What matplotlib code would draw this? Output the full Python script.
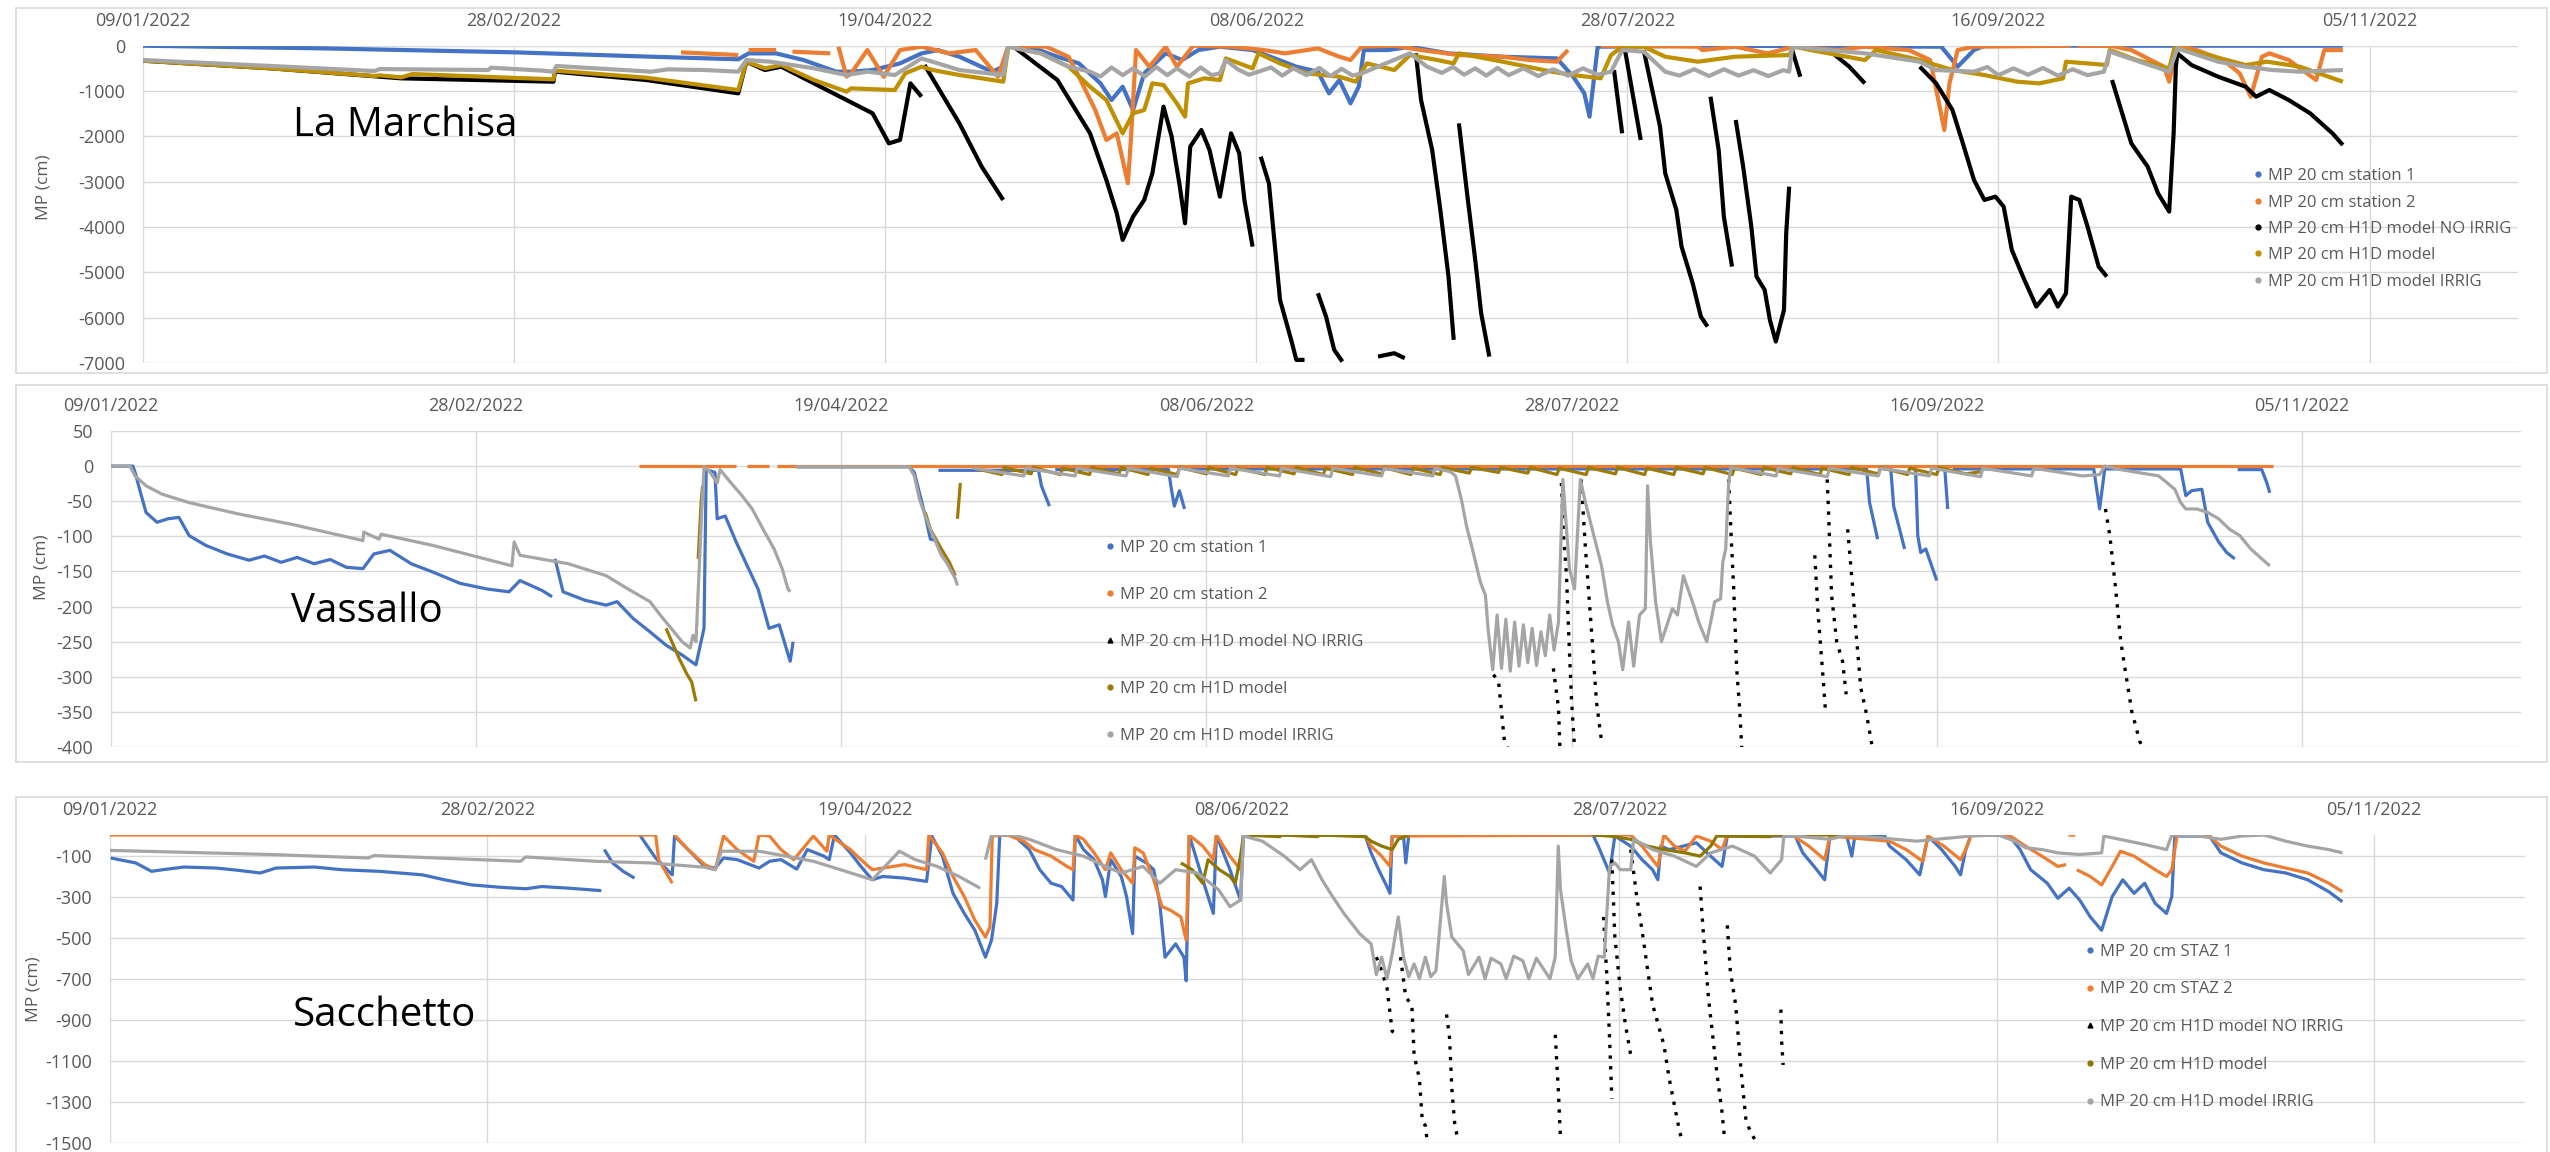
import numpy as np
import matplotlib
matplotlib.use("Agg")
import matplotlib.pyplot as plt
import matplotlib.dates as mdates
from matplotlib.ticker import MultipleLocator
from matplotlib.lines import Line2D
from matplotlib.patches import Rectangle

plt.rcParams['font.family'] = ['Open Sans', 'DejaVu Sans']
plt.rcParams['axes.unicode_minus'] = False

# dati: (giorni dal 09/01/2022, MP in cm), None = interruzione
START = np.datetime64('2022-01-09')

# --- La Marchisa ---
lm_st1 = [(0, 0), (24.6, -60), (50.2, -147), (68.5, -243), (80.2, -300), (81.6, -170), (85.3, -170), (89, -316),
          (93.4, -573), (95.4, -573), (98.3, -537), (102, -390), (104.9, -169), (107.1, -96), (110, -243),
          (114.4, -573), (115.9, -463), (116.6, -22), (119.5, -22), (123.2, -243), (126.1, -390), (129, -831),
          (130.5, -1198), (132, -904), (133.4, -1419), (134.9, -610), (137.8, -169), (140, -316), (142.2, -96),
          (145.1, -22), (149.5, -96), (152.5, -280), (155.4, -463), (158.3, -573), (159.8, -1051), (161.2, -757),
          (162.7, -1272), (163.8, -904), (164.5, -96), (167.8, -96), (170.7, -22), (175.9, -169), (183.2, -243),
          (190.5, -280), (192.7, -684), (194.2, -1051), (194.9, -1566), (196, -22), (210, 0), (242.3, -22),
          (244.5, -463), (246.7, -96), (248.1, 0), (296.4, 0)]
lm_st2 = [(72.5, -147), (80.2, -206), None, (81.6, -96), (85.3, -96), None, (87.5, -132), (92.6, -169), None,
          (93.7, -22), (94.8, -684), (95.4, -610), (97.6, -96), (99.8, -684), (102, -96), (104.9, -22),
          (108.6, -169), (112.2, -96), (115.2, -684), (116.6, 0), (121.7, -22), (124.7, -243), (126.1, -684),
          (128.3, -1419), (129.8, -2080), (131.2, -1933), (132.7, -3036), (133.1, -2080), (133.8, -96),
          (135.6, -463), (137.8, -22), (139.3, -463), (141.5, 0), (146.6, -22), (151, -96), (153.9, -169),
          (158.3, -59), (161.2, -243), (162.7, -316), (164.2, -22), (168.6, 0), (172.2, -96), (177.3, -206),
          (183.2, -243), (186.8, -316), (190.5, -353), (192, -96), None, (196.4, 0), (209.5, -22), (210.1, -96),
          (214.5, -22), (218.9, -169), (222.5, -22), (228.4, -96), (232, -22), (237.9, -96), (240.8, -316),
          (241.9, -1198), (242.7, -1860), (243.4, -831), (244.5, -96), (246.7, -22), (259.8, 0), None,
          (260.6, 0), (265, 0), (267.9, -96), (270.1, -280), (272.3, -463), (273, -794), (274.1, 0), (276.7, -96),
          (280.3, -316), (282.5, -610), (284, -1125), (285.5, -243), (286.5, -169), (289.1, -316), (292.8, -757),
          (293.9, -96), (296.4, -96)]
lm_noirr = [(0, -331), (17.3, -500), (34.8, -720), (55.3, -794), (55.5, -573), (67.8, -757), (80.2, -1051),
            (81.3, -353), (83.8, -537), (86, -463), (90.4, -831), (94.8, -1198), (98.3, -1492), (100.5, -2154),
            (102, -2080), (103.4, -831), (104.9, -1125), None, (105.3, -426), (110, -1713), (113, -2668),
            (115.9, -3403), None, (117.3, -22), (123.2, -757), (127.6, -1933), (129.8, -2962), (131.2, -3697),
            (132, -4285), (133.4, -3771), (134.9, -3403), (136, -2815), (137.5, -1345), (138.6, -2007),
            (139.7, -3109), (140.4, -3918), (141.1, -2227), (142.6, -1860), (143.7, -2301), (145.1, -3330),
            (146.6, -1933), (147.7, -2374), (148.4, -3403), (149.5, -4432), None, (150.6, -2448), (151.7, -3036),
            (153.2, -5608), (154.7, -6490), (155.4, -6931), (156.5, -6931), None, (158.3, -5461), (159.4, -5976),
            (160.5, -6711), (161.6, -6968), None, (166.4, -6858), (168.6, -6784), (170, -6894), None,
            (171.5, -169), (172.2, -1198), (173.7, -2301), (174.8, -3624), (175.9, -5094), (176.6, -6490), None,
            (177.3, -1713), (178.4, -3256), (179.5, -4726), (180.3, -5902), (181.4, -6858), None, (198.2, -537),
            (199.3, -1933), None, (199.6, -22), (201.8, -2080), None, (202.2, -96), (204.4, -1786), (205.1, -2815),
            (206.6, -3624), (207.3, -4432), (208.8, -5241), (209.9, -5976), (210.8, -6196), None, (211.2, -1125),
            (212.3, -2301), (213, -3771), (214.1, -4873), None, (214.6, -1639), (215.6, -2668), (216.7, -3991),
            (217.4, -5094), (218.5, -5388), (219.2, -6049), (220, -6527), (221.1, -5829), (221.4, -4138),
            (221.8, -3109), None, (222.2, -96), (223.3, -684), None, (227.7, -169), (229.9, -463), (232, -831), None,
            (239.4, -463), (241.6, -831), (243.8, -1419), (245.2, -2154), (246.7, -2962), (248.1, -3403),
            (249.6, -3330), (250.7, -3550), (251.8, -4506), (253.3, -5094), (255.1, -5755), (256.9, -5388),
            (258, -5755), (259.1, -5461), (259.8, -3330), (260.9, -3403), (262, -3991), (263.5, -4873),
            (264.6, -5094), None, (265.3, -757), (266.4, -1345), (267.9, -2154), (270.1, -2668), (271.5, -3256),
            (273, -3660), (273.6, -1933), (273.9, -463), (274.1, -169), (276, -426), (279.6, -684), (283.3, -904),
            (284.7, -1125), (286.5, -978), (289.1, -1198), (292, -1492), (295, -1933), (296.4, -2190)]
lm_h1d = [(0, -331), (17.3, -500), (31.2, -669), (31.9, -654), (34.8, -698), (36.3, -625), (55.3, -742),
          (55.5, -551), (67.8, -706), (80.2, -978), (81.3, -353), (83.8, -500), (86, -426), (90.4, -757),
          (94.8, -1014), (95.4, -941), (101.3, -978), (102.7, -610), (104.9, -463), (106.4, -537), (110, -647),
          (113, -720), (115.9, -794), (116.6, -22), (121, -169), (124.7, -463), (127.6, -904), (129.8, -1198),
          (132, -1933), (133.4, -1492), (134.9, -1419), (136, -831), (137.5, -867), (139.3, -1272),
          (140.4, -1566), (140.8, -831), (143, -720), (145.1, -757), (145.9, -280), (149.5, -500), (150.3, -169),
          (153.2, -390), (156.8, -610), (161.2, -684), (163.4, -794), (164.9, -390), (168.6, -537), (170.7, -206),
          (174.4, -316), (176.6, -390), (177.3, -169), (183.2, -353), (189.8, -573), (192.7, -647), (196.4, -720),
          (197.8, -206), (199.3, -22), (202.2, -22), (205.1, -243), (209.5, -353), (214.5, -243), (221.8, -206),
          (222.5, -22), (224.7, -96), (232, -316), (233.5, -96), (239.4, -316), (243.8, -537), (248.1, -647),
          (252.5, -794), (255.5, -831), (258.7, -720), (259.1, -353), (264.6, -426), (265, -96), (268.6, -316),
          (273, -500), (273.7, -59), (277.4, -169), (283.3, -426), (286.2, -353), (290.6, -463), (296.4, -794)]
lm_irrig = [(0, -316), (17.3, -448), (31.2, -559), (31.9, -515), (46.5, -537), (46.9, -485), (53.9, -551),
            (55.3, -573), (55.7, -448), (68.5, -573), (70.7, -522), (75.8, -537), (80.2, -573), (81.3, -316),
            (84.6, -353), (90.4, -500), (94.8, -647), (97.6, -573), (101.3, -647), (104.9, -280), (110, -537),
            (115.9, -647), (116.6, -22), (121, -169), (124.7, -463), (127.6, -573), (129, -680), (130.5, -480),
            (132, -650), (133.4, -500), (135, -680), (136.5, -470), (138, -650), (139.3, -500), (141, -680),
            (142.5, -480), (144, -650), (145.1, -610), (145.9, -316), (147.5, -520), (149, -640), (150.3, -573),
            (152, -480), (153.5, -660), (155, -500), (156.8, -650), (158.5, -490), (160, -670), (161.5, -510),
            (163, -660), (164.2, -610), (170.7, -169), (173, -463), (175, -600), (176.5, -470), (178, -640),
            (179.5, -500), (181, -660), (182.5, -490), (184, -650), (186, -500), (188, -670), (190, -520),
            (192, -660), (194, -500), (196, -640), (197.8, -573), (199.3, -96), (202.2, -132), (205.1, -573),
            (207, -660), (209, -520), (211, -670), (213, -520), (215, -660), (217, -540), (219, -670), (221, -540),
            (221.8, -573), (222.2, -22), (224.7, -59), (232, -169), (239.4, -353), (241.6, -537), (246.7, -573),
            (248.5, -470), (250, -650), (252, -500), (254, -640), (256, -490), (258, -660), (260, -520), (262, -650),
            (264.2, -573), (265, -132), (273, -573), (274.1, -59), (279.6, -353), (283.3, -463), (286.9, -537),
            (290.6, -573), (296.4, -537)]

# --- Vassallo ---
vs_st1 = [(0, 0), (3, 0), (3.3, -9), (4.1, -40), (4.8, -66), (6.3, -80), (7.8, -75), (9.3, -73), (10.7, -99),
          (13, -113), (15.9, -125), (18.9, -134), (21, -128), (23.3, -137), (25.5, -130), (27.8, -139), (30, -133),
          (32.2, -144), (34.5, -146), (36, -125), (38.2, -120), (41.1, -139), (44.1, -151), (47.8, -167),
          (51.5, -175), (54.5, -179), (56, -163), (59, -177), (60.4, -186), None, (60.8, -132), (61.9, -179),
          (64.9, -191), (67.8, -198), (69.3, -193), (71.5, -217), (73.8, -236), (76, -255), (78.2, -269),
          (80.1, -283), (81.2, -231), (81.5, -5), (82.7, -9), (83, -75), (84.1, -71), (85.6, -108), (88.6, -175),
          (90.1, -231), (91.5, -226), (93, -278), (93.4, -250), None, (93.9, -1), (109.3, -1), (110, -9),
          (111.5, -71), (112.2, -104), (113, -106), None, (113.3, -6), (127, -6), (127.4, -28), (128.5, -57), None,
          (129.3, -5), (144.8, -5), (145.2, -33), (145.6, -57), (146.3, -35), (147, -61), None, (147.8, -4),
          (240.4, -4), (240.8, -52), (241.9, -104), None, (242.6, -4), (243.7, -4), (244.1, -57), (245.6, -118),
          None, (247.1, -4), (247.4, -99), (247.8, -123), (248.5, -118), (250, -163), None, (251.1, -4),
          (251.5, -61), None, (252.2, -4), (271.5, -4), (272.3, -61), (273, -4), (283.4, -4), (284.1, -42),
          (284.9, -35), (286.3, -33), (287.1, -80), (288.6, -108), (289.7, -123), (290.8, -132), None, (291.2, -5),
          (294.5, -5), (295.2, -24), (295.6, -38)]
vs_st2 = [(72.3, 0), (85.6, 0), None, (87.1, 0), (90.1, 0), None, (91.2, 0), (296, 0)]
vs_noirr = [(189.3, -297), (190, -307), (190.8, -392), (191.2, -401), None, (197.5, -288), (198.2, -344),
            (198.4, -401), None, (198.6, -24), (198.9, -99), (199.3, -156), (199.7, -264), (200, -335),
            (200.4, -401), None, (201.3, -19), (201.9, -118), (202.7, -231), (203.4, -335), (204.1, -392), None,
            (221.5, -19), (221.8, -90), (222.2, -175), (222.6, -288), (223, -344), (223.3, -401), None,
            (233.3, -127), (233.7, -203), (234.4, -297), (234.8, -354), None, (235, -19), (235.2, -71),
            (235.6, -184), (236.3, -250), (237.1, -278), (237.6, -325), None, (237.8, -90), (238.5, -175),
            (238.9, -231), (239.6, -316), (240.4, -354), (241.1, -396), None, (273.1, -61), (273.7, -99),
            (274.1, -137), (274.5, -175), (275.2, -250), (275.9, -297), (276.7, -349), (277.8, -392),
            (278.2, -401)]
vs_h1d = [(76, -231), (77.8, -274), (78.9, -297), (79.5, -307), (80.1, -335), None, (80.4, -132), (80.8, -52),
          (81, -28), None, (111.5, -66), (112.2, -90), (113.7, -118), (114.8, -137), (115.6, -156), None,
          (115.9, -75), (116.3, -24), None, (118.1, -3), (122, -12), (122.3, -2), (126, -11), (126.3, -2),
          (130, -12), (130.3, -3), (134, -12), (134.3, -2), (138, -11), (138.3, -2), (142, -12), (142.3, -3),
          (146, -12), (146.3, -2), (150, -11), (150.3, -2), (154, -12), (154.3, -3), (158, -12), (158.3, -2),
          (162, -11), (162.3, -2), (166, -12), (166.3, -3), (170, -12), (170.3, -2), (174, -11), (174.3, -2),
          (178, -12), (178.3, -3), (182, -12), (182.3, -2), (186, -10), (186.3, -2), (190, -9), (190.3, -2),
          (194, -10), (194.3, -2), (198, -12), (198.3, -3), (202, -12), (202.3, -2), (206, -11), (206.3, -2),
          (210, -12), (210.3, -3), (214, -12), (214.3, -2), (218, -11), (218.3, -2), (222, -12), (222.3, -3),
          (226, -12), (226.3, -2), (230, -11), (230.3, -2), (234, -12), (234.3, -3), (238, -12), (238.3, -2),
          (242, -11), (242.3, -2), (246, -12), (246.3, -3), (250, -12), (250.3, -2), (254, -11), (256, -8)]
vs_irrig = [(0, 0), (2.6, 0), (3.3, -14), (4.8, -28), (7, -40), (10.7, -52), (17.4, -68), (24.8, -83),
            (33.7, -104), (34.5, -106), (34.6, -94), (36.7, -104), (37, -97), (44.1, -113), (54.9, -142),
            (55.2, -108), (56, -127), (62.6, -139), (67.8, -156), (70.8, -175), (73.8, -193), (75.2, -212),
            (76.7, -231), (78.2, -250), (79.3, -259), (79.7, -241), (80.1, -250), (80.4, -179), (80.8, -85),
            (81.2, -1), (81.9, -7), (82.7, -19), (83, -24), (83.4, -5), (84.9, -24), (86.4, -42), (87.8, -61),
            (89.3, -90), (90.8, -118), (91.9, -146), (92.7, -175), (93, -179), None, (93.8, -1), (109.3, -1),
            (110, -14), (110.7, -47), (111.5, -71), (112.2, -90), (113.7, -127), (114.4, -137), (115.6, -160),
            (115.9, -170), None, (118.1, -3), (125, -14), (125.3, -3), (132, -14), (132.3, -3), (139, -14),
            (139.3, -3), (146, -15), (146.3, -3), (153, -14), (153.3, -3), (160, -14), (160.3, -3), (167, -15),
            (167.3, -3), (174, -14), (174.3, -3), (181, -14), (181.3, -3), (183.4, -8), (184.1, -14), (184.9, -47),
            (185.6, -85), (186.3, -113), (187.5, -165), (188.2, -184), (188.6, -236), (189.2, -290), (189.8, -212),
            (190.4, -288), (191, -218), (191.6, -292), (192.2, -222), (192.8, -285), (193.4, -226), (194, -280),
            (194.6, -231), (195.2, -284), (195.8, -236), (196.4, -270), (197, -212), (197.6, -262), (198.2, -222),
            (198.8, -19), (199.7, -146), (200.4, -175), (201.2, -19), (201.9, -52), (202.7, -85), (204.1, -142),
            (204.9, -193), (205.6, -226), (206.4, -250), (207, -290), (207.8, -222), (208.5, -285), (209.3, -212),
            (210.1, -203), (210.4, -28), (210.8, -108), (211.5, -193), (212.3, -250), (213.8, -203), (214.5, -212),
            (215.3, -156), (216.7, -198), (217.4, -222), (218.5, -250), (219.6, -193), (220.4, -189),
            (220.7, -137), (221.1, -118), (221.5, -24), (221.8, -2), (228, -14), (228.3, -3), (235, -15),
            (235.3, -3), (242, -14), (242.3, -3), (249, -14), (249.3, -3), (256, -15), (256.3, -3), (263, -14),
            (263.3, -3), (270, -14), (272.3, -12), (273, 0), (275.2, -5), (280.4, -14), (282.6, -33), (283.4, -52),
            (284.1, -61), (285.6, -61), (287.1, -66), (288.6, -75), (290.1, -90), (291.5, -99), (293, -118),
            (294.5, -132), (295.6, -142)]

# --- Sacchetto ---
sc_st1 = [(0.1, -112), (3.4, -136), (5.5, -177), (7, -169), (9.8, -156), (14.1, -161), (17, -172), (19.9, -185),
          (22, -161), (27.1, -156), (30.7, -169), (35.7, -177), (41.4, -194), (44.3, -218), (47.9, -243),
          (51.5, -254), (55.1, -262), (57.2, -251), (60.8, -259), (65.1, -271), None, (65.5, -71), (66.6, -136),
          (68, -177), (69.5, -210), None, (70.2, 0), (71.2, -54), (72.3, -112), (73.4, -153), (74.5, -194),
          (74.8, -5), (76.6, -71), (78.8, -153), (80.2, -161), (81.3, -112), (83.1, -120), (86, -161),
          (87.4, -128), (88.9, -120), (91, -166), (92.4, -71), (94.6, -103), (95.3, -120), (96, 0), (98.1, -87),
          (99.5, -153), (101, -218), (102.4, -202), (105.3, -210), (108.2, -226), (108.9, -5), (110.3, -103),
          (111.7, -284), (113.2, -382), (114.6, -464), (116, -595), (116.8, -513), (117.5, -333), (117.9, 0),
          (119.7, 0), (121.8, -71), (123.2, -169), (124.7, -235), (126.1, -251), (127.6, -317), (127.9, 0),
          (129, -71), (130.4, -120), (131.5, -218), (131.9, -300), (132.6, -120), (134, -202), (134.7, -300),
          (135.5, -481), (135.8, -103), (137.3, -136), (138.3, -169), (139.1, -333), (139.8, -595), (141.2, -530),
          (142.3, -595), (142.6, -710), (143, 0), (144.8, -218), (146.2, -382), (146.6, 0), (148.4, -169),
          (149.8, -317), (150.2, 0), (166.3, 0), (167.1, -87), (168.1, -169), (169.2, -251), (169.6, -284),
          (169.9, -5), (171.4, -5), (171.7, -136), (172.1, 0), (196.5, 0), (197.2, -54), (198.7, -185),
          (199.4, -5), (201.5, -54), (203, -120), (204.4, -169), (205.1, -218), (205.5, -54), (206.6, -71),
          (210.2, -38), (212.1, -103), (213.6, -153), (214.3, -5), (223.3, -5), (224.3, -87), (225.8, -153),
          (227.2, -218), (227.9, -5), (230.1, 0), (230.8, -103), (231.2, -5), (235.1, 0), (235.8, -54),
          (238, -120), (239.8, -194), (240.9, -5), (242.7, -71), (244.5, -153), (245.2, -194), (245.9, -71),
          (246.6, 0), (251.6, 0), (253.1, -71), (254.5, -169), (256.7, -235), (258.1, -308), (259.6, -259),
          (261, -317), (262.4, -399), (263.9, -464), (265.3, -300), (266.7, -218), (268.2, -284), (269.6, -235),
          (271, -333), (272.5, -382), (273.2, -300), (273.6, -5), (278.2, -5), (279.7, -87), (282.5, -136),
          (285.4, -169), (288.3, -185), (291.2, -218), (294, -276), (295.8, -325)]
sc_st2 = [(0, 0), (72.3, 0), (72.7, -120), (74.5, -235), None, (74.8, 0), (76.6, -71), (78.8, -144), (80.2, -169),
          (81.3, -5), (83.1, -71), (85.3, -128), (86, 0), (87.4, -5), (88.9, -71), (90.6, -120), (93.2, -5),
          (95, -79), (95.3, 0), (98.1, -71), (99.5, -120), (101, -169), (103.8, -153), (105.3, -144),
          (108.2, -169), (108.5, 0), (110.3, -87), (111.7, -202), (113.2, -300), (114.6, -415), (116, -497),
          (116.6, -448), (116.9, -5), (118.9, 0), (121.1, -30), (122.5, -71), (124.7, -103), (126.8, -153),
          (127.6, -169), (127.9, 0), (129, -21), (130.4, -87), (131.9, -169), (132.6, -87), (134, -169),
          (135.5, -235), (135.8, -62), (136.9, -87), (138.3, -218), (139.4, -349), (140.5, -366), (141.9, -399),
          (142.6, -513), (143, 0), (144.8, -54), (146.2, -120), (146.6, 0), (148.4, -103), (149.8, -169),
          (150.2, 0), (166.3, 0), (167.1, -54), (168.5, -103), (169.6, -153), (169.9, -5), (201.5, 0),
          (203, -54), (204.4, -120), (205.1, -153), (205.9, 0), (207.3, -54), (208.7, -79), (210.2, -5),
          (212.1, -30), (213.6, -71), (214.3, 0), (222.9, 0), (225.1, -54), (227.2, -120), (227.9, -5),
          (235.8, -30), (238, -71), (240.2, -128), (240.9, -5), (243, -54), (245.2, -120), (245.9, -71),
          (246.6, 0), (251.6, 0), (253.8, -54), (256, -103), (258.1, -153), (259.2, -144), None, (259.5, 0),
          (260.4, 0), None, (260.6, -169), (262.4, -202), (263.9, -243), (265.3, -153), (266.4, -79),
          (268.2, -103), (269.6, -136), (271, -169), (272.5, -202), (273.2, -169), (273.9, 0), (278.2, -5),
          (279.7, -54), (282.5, -103), (285.4, -136), (288.3, -161), (291.2, -185), (294, -235), (295.8, -276)]
sc_noirr = [(167.8, -595), (168.5, -661), (169.2, -743), (169.9, -956), (170.7, -973), None, (171, -595),
            (171.7, -792), (172.5, -825), (172.8, -1071), (173.5, -1186), (173.9, -1399), (174.3, -1415),
            (174.6, -1514), None, (177.1, -874), (177.5, -989), (177.8, -1235), (178.2, -1415), (178.6, -1481),
            None, (191.5, -973), (191.9, -1235), (192.2, -1481), None, (197.9, -399), (198.3, -661), (198.7, -989),
            (199, -1284), None, (199, -120), (199.4, -497), (200.1, -743), (200.8, -923), (201.5, -1071), None,
            (201.5, -71), (202.3, -300), (203, -464), (203.7, -645), (204.4, -825), (205.9, -1022),
            (206.6, -1186), (207.3, -1317), (208, -1448), (208.4, -1497), None, (210.7, -251), (211.1, -464),
            (211.8, -792), (212.9, -1153), (213.6, -1350), (213.9, -1465), None, (214.3, -440), (214.7, -661),
            (215.4, -825), (216.1, -1137), (216.8, -1399), (217.9, -1481), None, (221.4, -850), (221.5, -1005),
            (221.7, -1120)]
sc_h1d = [(141.9, -136), (143.4, -169), (144.8, -235), (145.5, -120), (147, -169), (148.4, -202), (149.1, -235),
          (149.8, -103), (150.2, 0), (155, -8), (155.3, 0), (160, -8), (160.3, 0), (166.3, -8), (167.1, -30),
          (168.5, -54), (169.9, -71), (170.7, -21), (172.1, 0), None, (196.5, 0), (198.7, -5), (201.5, -21),
          (203.7, -54), (205.9, -71), (208.7, -87), (210.7, -103), (212.1, -54), (212.9, -5), (220, -8),
          (220.3, 0), (230.1, 0)]
sc_irrig = [(0, -75), (21.3, -95), (34.2, -112), (35, -100), (54.4, -128), (55.1, -107), (64.4, -128),
            (71.6, -136), (78.8, -157), (80.2, -169), (81, -79), (86, -79), (89.6, -103), (93.2, -128),
            (97.5, -177), (101, -218), (104.6, -79), (106.7, -120), (109.6, -153), (112.5, -202), (115.3, -259),
            None, (116, -120), (116.8, 0), (119.7, 0), (121.8, -21), (125.4, -71), (129, -103), (131.9, -153),
            (134, -185), (136.9, -153), (139.1, -235), (141.2, -169), (144.1, -185), (146.9, -267), (148.4, -349),
            (149.8, -317), (150.2, -5), (152.7, -30), (155.6, -103), (157.7, -169), (159.2, -120), (160.6, -218),
            (162, -300), (163.5, -382), (165.6, -481), (167.1, -530), (167.8, -680), (168.5, -595), (169.2, -700),
            (169.9, -579), (170.7, -399), (171.4, -595), (172.1, -690), (172.8, -628), (173.5, -700),
            (174.3, -595), (175, -690), (175.7, -661), (176.8, -202), (177.1, -333), (177.8, -497), (179.3, -563),
            (180, -680), (181.4, -595), (182.2, -700), (183, -600), (184.3, -628), (185, -700), (186, -590),
            (187.2, -612), (188, -700), (189, -600), (190.1, -661), (190.8, -700), (191.5, -595), (191.9, -54),
            (192.2, -267), (192.9, -448), (193.6, -612), (194.5, -700), (195.8, -628), (196.5, -700),
            (197.2, -590), (198, -595), (198.7, -153), (199.4, -136), (200.1, -169), (201.5, -169), (201.9, -21),
            (204.4, -71), (207.3, -103), (210.2, -153), (212.1, -87), (215, -54), (217.9, -103), (220, -185),
            (221.5, -120), (221.8, 0), (227.9, -21), (230.1, 0), (239.4, -30), (246.6, -5), (250.2, 0),
            (252.4, -30), (253.8, -62), (256, -71), (258.1, -87), (261, -95), (263.9, -87), (264.2, -5),
            (269.6, -46), (272.5, -71), (273.2, 0), (276.8, -5), (279.7, -21), (282.5, -5), (285.4, 0),
            (288.3, -30), (291.2, -54), (294, -71), (295.8, -87)]

labels_station = ['MP 20 cm station 1', 'MP 20 cm station 2', 'MP 20 cm H1D model NO IRRIG',
                  'MP 20 cm H1D model', 'MP 20 cm H1D model IRRIG']
labels_staz = ['MP 20 cm STAZ 1', 'MP 20 cm STAZ 2', 'MP 20 cm H1D model NO IRRIG',
               'MP 20 cm H1D model', 'MP 20 cm H1D model IRRIG']

BLUE, ORANGE, GRAY = '#4472C4', '#ED7D31', '#A5A5A5'
TXT = '#595959'
GRID = '#D9D9D9'
W, H = 2550, 1152


def to_xy(pts):
    xs, ys = [], []
    for p in pts:
        if p is None:
            xs.append(np.nan)
            ys.append(np.nan)
        else:
            xs.append(p[0])
            ys.append(p[1])
    return mdates.date2num(START) + np.array(xs, float), np.array(ys, float)


def fx(px):
    return px / W


def fy(py):
    return 1 - py / H


fig = plt.figure(figsize=(W / 100, H / 100), dpi=100)

# cornici dei tre grafici
for top, bot in [(8, 373), (385, 762), (797, 1170)]:
    fig.add_artist(Rectangle((fx(16), fy(bot)), fx(2547) - fx(16), fy(top) - fy(bot),
                             transform=fig.transFigure, fill=False, ec=GRID, lw=1.2))

panels = [
    dict(box=(143, 2518, 45.7, 363), ylim=(-7000, 0), ystep=1000, ybase=0, xmax=320,
         data=[lm_st1, lm_st2, lm_noirr, lm_h1d, lm_irrig], gold='#BF9000', lw=3.0, black_ls='-',
         black_mk='o', labels=labels_station, name='La Marchisa', name_xy=(405, 126),
         ylab_xy=(44, 187), leg=(2253, 229), leg_sp=0.62),
    dict(box=(111, 2521, 431, 747), ylim=(-400, 50), ystep=50, ybase=0, xmax=330,
         data=[vs_st1, vs_st2, vs_noirr, vs_h1d, vs_irrig], gold='#9E7A05', lw=2.3, black_ls=(0, (1, 2.2)),
         black_mk='^', labels=labels_station, name='Vassallo', name_xy=(367, 612),
         ylab_xy=(42, 567), leg=(1105, 642), leg_sp=1.85),
    dict(box=(110, 2525, 835, 1143), ylim=(-1500, 0), ystep=200, ybase=-1500, xmax=320,
         data=[sc_st1, sc_st2, sc_noirr, sc_h1d, sc_irrig], gold='#8C7800', lw=2.3, black_ls=(0, (1, 2.2)),
         black_mk='^', labels=labels_staz, name='Sacchetto', name_xy=(385, 1016),
         ylab_xy=(34, 989), leg=(2085, 1027), leg_sp=1.3),
]

for p in panels:
    x0, x1, y0, y1 = p['box']
    ax = fig.add_axes([fx(x0), fy(y1), fx(x1) - fx(x0), fy(y0) - fy(y1)])
    colors = [BLUE, ORANGE, 'black', p['gold'], GRAY]
    for i, (pts, c) in enumerate(zip(p['data'], colors)):
        x, y = to_xy(pts)
        if i == 2 and p['black_ls'] != '-':
            ax.plot(x, y, color=c, lw=2.4, ls=p['black_ls'], zorder=3 + i)
        else:
            ax.plot(x, y, color=c, lw=p['lw'], solid_capstyle='butt', zorder=3 + i)

    d0 = mdates.date2num(START)
    ax.set_xlim(d0, d0 + p['xmax'])
    ax.set_ylim(*p['ylim'])
    ax.xaxis.set_major_locator(MultipleLocator(50, offset=d0 % 50))
    ax.xaxis.set_major_formatter(mdates.DateFormatter('%d/%m/%Y'))
    ax.yaxis.set_major_locator(MultipleLocator(p['ystep'], offset=p['ybase'] % p['ystep']))
    ax.xaxis.tick_top()
    ax.tick_params(axis='x', length=0, pad=11.5, labelsize=13, labelcolor=TXT)
    ax.tick_params(axis='y', length=0, pad=13, labelsize=13, labelcolor=TXT)
    ax.grid(True, color=GRID, lw=1)
    ax.set_axisbelow(True)
    for s in ax.spines.values():
        s.set_visible(False)

    fig.text(fx(p['ylab_xy'][0]), fy(p['ylab_xy'][1]), 'MP (cm)', rotation=90, ha='center', va='center',
             fontsize=12.5, color=TXT)
    fig.text(fx(p['name_xy'][0]), fy(p['name_xy'][1]), p['name'], ha='center', va='center',
             fontsize=29, color='black')

    markers = ['o', 'o', p['black_mk'], 'o', 'o']
    handles = [Line2D([], [], ls='none', marker=m, ms=3.5, color=c, mec=c) for m, c in zip(markers, colors)]
    ax.legend(handles, p['labels'], loc='center left', bbox_to_anchor=(fx(p['leg'][0]), fy(p['leg'][1])),
              bbox_transform=fig.transFigure, frameon=False, fontsize=12, labelcolor=TXT,
              handlelength=0.6, handletextpad=0.3, labelspacing=p['leg_sp'], borderpad=0, borderaxespad=0)

fig.savefig('out.png', dpi=100)
